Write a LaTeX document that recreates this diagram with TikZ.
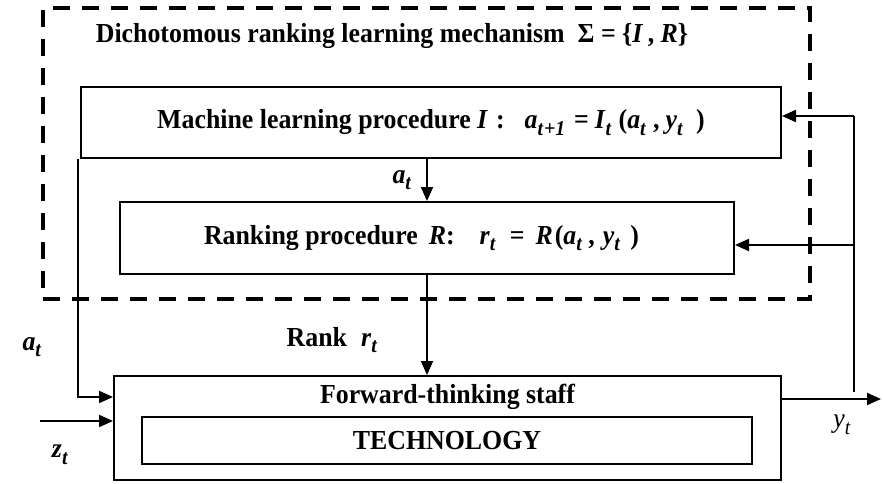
\documentclass[tikz,border=0pt]{standalone}
\usepackage{fontspec}
\setmainfont[FakeStretch=0.94]{Liberation Serif}
\usetikzlibrary{arrows.meta,calc}
\newcommand{\ib}[1]{\textbf{\textit{#1}}}
\newcommand{\sbx}[1]{\raisebox{-6.5pt}{\fontsize{21}{21}\selectfont\textbf{\textit{#1}}}}
\begin{document}
\begin{tikzpicture}[x=1pt,y=-1pt,
  txt/.style={font=\fontsize{27.5}{30}\selectfont\bfseries, inner sep=0pt},
  boxx/.style={draw, line width=2pt, inner sep=0pt, font=\fontsize{27.5}{30}\selectfont\bfseries},
  dashbox/.style={draw, line width=4pt, dash pattern=on 17pt off 12pt},
  conn/.style={line width=2pt},
  arr/.style={line width=2pt, -{Triangle[length=14pt,width=12pt]}}]
\useasboundingbox (0,0) rectangle (883,484);
% dashed mechanism boundary
\node[dashbox, minimum width=767pt, minimum height=291pt, inner sep=0pt] (mech) at (426.5,153.5) {};
\node[txt] (title) at (392,36) {Dichotomous ranking learning mechanism\ \ Σ = \{\ib{I}\,, \ib{R}\}};
% boxes
\node[boxx, minimum width=700pt, minimum height=71pt] (machine) at (431,122.5)
  {Machine learning procedure \ib{I}\hspace{8pt}:\hspace{20pt}\ib{a}\sbx{t\hspace{1pt}+1}\hspace{9pt}=\hspace{6pt}\ib{I}\sbx{t}\hspace{7pt}(\ib{a}\sbx{t}\hspace{7pt},\hspace{6pt}\ib{y}\sbx{t}\hspace{13pt})};
\node[boxx, minimum width=614pt, minimum height=72pt] (ranking) at (427,238)
  {Ranking procedure\hspace{11pt}\ib{R}:\hspace{25pt}\ib{r}\sbx{t}\hspace{14pt}=\hspace{11pt}\ib{R}\hspace{2pt}(\ib{a}\sbx{t}\hspace{6pt},\hspace{8pt}\ib{y}\sbx{t}\hspace{10pt})\hspace*{11pt}};
\node[boxx, minimum width=667pt, minimum height=104pt] (forward) at (447.5,428) {};
\node[txt] (ftitle) at (447.5,397) {Forward-thinking staff};
\node[boxx, minimum width=610pt, minimum height=47pt] (tech) at (447,440.5) {TECHNOLOGY};
% labels
\node[txt] (lat) at (402,180) {\ib{a}\sbx{t}};
\node[txt] (lrank) at (332,340) {Rank\hspace{14pt}\ib{r}\sbx{t}};
\node[txt] (lain) at (32,347) {\ib{a}\sbx{t}};
\node[txt] (lz) at (60,455) {\ib{z}\sbx{t}};
\node[txt, font=\fontsize{27.5}{30}\selectfont] (ly) at (842,425) {\textit{y}\raisebox{-6.5pt}{\fontsize{21}{21}\selectfont\textit{t}}};
% coordinates
\coordinate (lt) at (78,159);
\coordinate (lb) at (78,397);
\coordinate (zs) at (40,421);
\coordinate (yo) at (881,399);
\coordinate (fb0) at (854,392);
\coordinate (fb1) at (854,116);
\coordinate (fb2) at (854,245);
% connectors
\draw[arr] (machine.south -| ranking.north) -- (ranking.north);
\draw[arr] (ranking.south) -- (forward.north -| ranking.south);
\draw[arr] (lt) -- (lb) -- (lb -| forward.west);
\draw[arr] (zs) -- (zs -| forward.west);
\draw[arr] (yo -| forward.east) -- (yo);
\draw[conn] (fb0) -- (fb1);
\draw[arr] (fb1) -- (fb1 -| machine.east);
\draw[arr] (fb2) -- (fb2 -| ranking.east);
\end{tikzpicture}
\end{document}
